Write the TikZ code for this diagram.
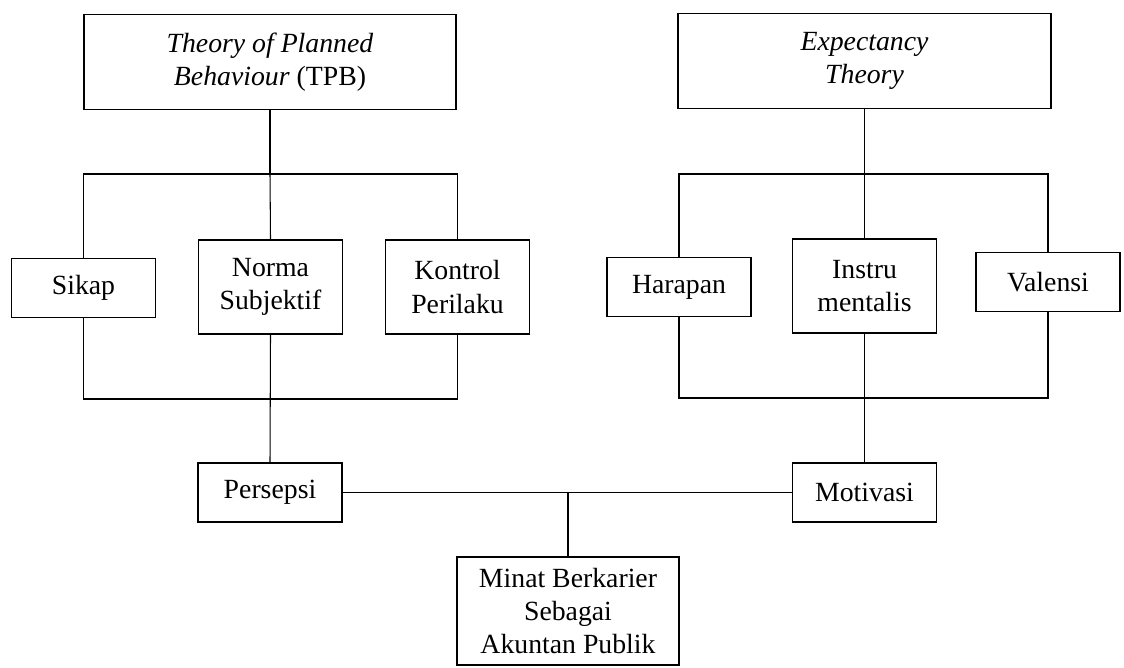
\documentclass[tikz,border=0pt]{standalone}
\usepackage{fontspec}
\setmainfont{Liberation Serif}
\usepackage{tikz}

\begin{document}
\begin{tikzpicture}[x=0.02cm,y=-0.02cm,
		box/.style={draw, line width=1pt, align=center, inner sep=0pt,
			font=\fontsize{15.8}{18.8}\selectfont},
		wide/.style={box, minimum width=7.45cm, minimum height=1.9cm},
		small/.style={box, minimum width=2.88cm, minimum height=1.18cm},
		tall/.style={box, minimum width=2.88cm, minimum height=1.89cm},
		link/.style={line width=.6pt},
		mainlink/.style={line width=1pt}]
		\useasboundingbox (0,0) rectangle (1124,667);
		% teori
		\node [wide] (tpb) at (270,62) {\textit{Theory of Planned}\\\textit{Behaviour} (TPB)};
		\node [wide] (exp) at (864.5,61) {\textit{Expectancy}\\\textit{Theory}};
		% variabel TPB
		\node [small] (sikap) at (83.5,288) {Sikap};
		\node [tall] (norma) at (270.5,287) {Norma\\Subjektif};
		\node [tall] (kontrol) at (457.5,287) {Kontrol\\Perilaku};
		% variabel expectancy
		\node [small] (harapan) at (679,287) {Harapan};
		\node [tall] (instru) at (864.5,286) {Instru\\mentalis};
		\node [small] (valensi) at (1048,282) {Valensi};
		% persepsi, motivasi, minat
		\node [small] (persepsi) at (270,492.5) {Persepsi};
		\node [small] (motivasi) at (864.5,492.5) {Motivasi};
		\node [box, minimum width=4.44cm, minimum height=2.16cm] (minat) at (568,611)
			{Minat Berkarier\\Sebagai\\Akuntan Publik};
		\coordinate (ltop) at (270,174);
		\coordinate (lbot) at (270,399);
		\coordinate (rtop) at (864.5,174);
		\coordinate (rbot) at (864.5,398);
		\coordinate (mid) at (minat.north |- persepsi.east);
		% kiri
		\draw [mainlink] (tpb.south) -- (ltop);
		\draw [link] (sikap.north) |- (kontrol.north |- ltop) -- (kontrol.north);
		\draw [link] (norma.north) -- (ltop);
		\draw [link] (sikap.south) |- (kontrol.south |- lbot) -- (kontrol.south);
		\draw [link] (norma.south) -- (persepsi.north);
		% kanan
		\draw [link] (exp.south) -- (rtop);
		\draw [link] (harapan.north) |- (valensi.north |- rtop) -- (valensi.north);
		\draw [mainlink] (instru.north) -- (rtop);
		\draw [link] (harapan.south) |- (valensi.south |- rbot) -- (valensi.south);
		\draw [link] (instru.south) -- (motivasi.north);
		% bawah
		\draw [mainlink] (persepsi.east) -- (motivasi.west);
		\draw [mainlink] (mid) -- (minat.north);
	\end{tikzpicture}
\end{document}
